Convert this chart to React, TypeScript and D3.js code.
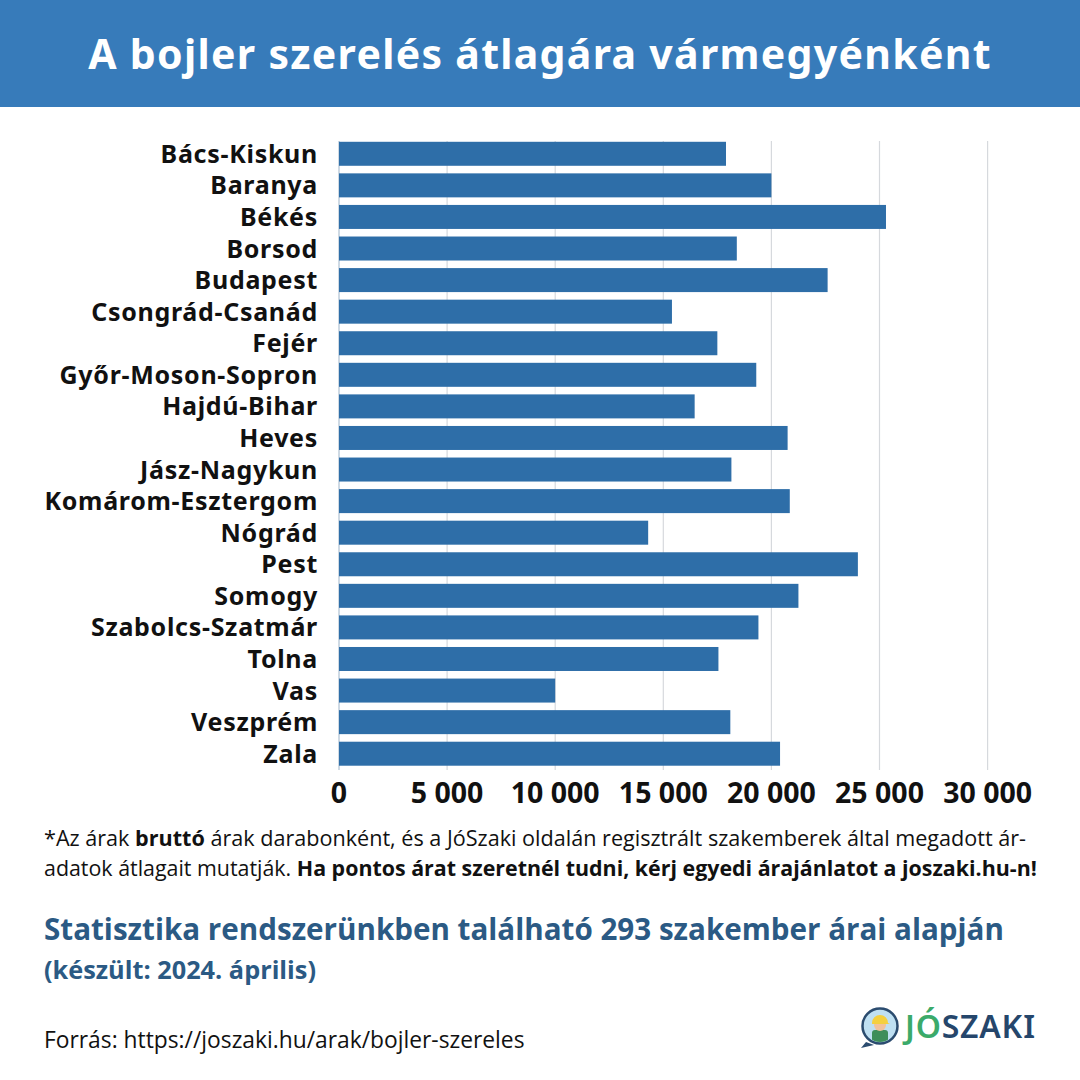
import React from "react";
import * as d3 from "d3";

const counties = [
  "Bács-Kiskun", "Baranya", "Békés", "Borsod", "Budapest", "Csongrád-Csanád",
  "Fejér", "Győr-Moson-Sopron", "Hajdú-Bihar", "Heves", "Jász-Nagykun",
  "Komárom-Esztergom", "Nógrád", "Pest", "Somogy", "Szabolcs-Szatmár",
  "Tolna", "Vas", "Veszprém", "Zala",
];
const prices = [
  17900, 20000, 25300, 18400, 22600, 15400, 17500, 19300, 16450, 20750,
  18150, 20850, 14300, 24000, 21250, 19400, 17550, 10000, 18100, 20400,
];
const xTicks = [0, 5000, 10000, 15000, 20000, 25000, 30000];

const title = "A bojler szerelés átlagára vármegyénként";
const statLine = "Statisztika rendszerünkben található 293 szakember árai alapján";
const dateLine = "(készült: 2024. április)";
const sourceLine = "Forrás: https://joszaki.hu/arak/bojler-szereles";

const FONT = "'Noto Sans', sans-serif";
const NOTE_FONT = "'Open Sans', sans-serif";

export default function App() {
  const x = d3.scaleLinear().domain([0, 30000]).range([339, 987.6]);
  const y = d3
    .scaleBand<string>()
    .domain(counties)
    .range([138, 769.5])
    .paddingInner(0.24)
    .paddingOuter(0.12);
  const fmt = (v: number) => d3.format(",")(v).replace(/,/g, " ");
  const [y0, y1] = [141, 770];

  return (
    <svg
      width={1080}
      height={1080}
      viewBox="0 0 1080 1080"
      style={{ position: "absolute", left: 0, top: 0, background: "#fff" }}
    >
      <rect x={0} y={0} width={1080} height={1080} fill="#ffffff" />
      <rect x={0} y={0} width={1080} height={107} fill="#377BBA" />
      <text
        x={540}
        y={69}
        textAnchor="middle"
        fill="#ffffff"
        fontFamily={FONT}
        fontWeight={700}
        fontSize={41}
        letterSpacing={1.3}
      >
        {title}
      </text>

      {/* gridlines */}
      {xTicks.slice(1).map((t) => (
        <line key={t} x1={x(t)} x2={x(t)} y1={y0} y2={y1} stroke="#d6d9dd" strokeWidth={1.2} />
      ))}
      <line x1={x(0)} x2={x(0)} y1={y0} y2={y1} stroke="#9fb4c8" strokeWidth={1} />

      {/* bars */}
      {counties.map((c, i) => (
        <rect
          key={c}
          x={x(0)}
          y={y(c)!}
          width={x(prices[i]) - x(0)}
          height={y.bandwidth()}
          fill="#2E6EA8"
        />
      ))}

      {/* category labels */}
      {counties.map((c) => (
        <text
          key={c}
          x={318}
          y={y(c)! + y.bandwidth() / 2}
          dy="0.36em"
          textAnchor="end"
          fill="#111111"
          fontFamily={FONT}
          fontWeight={700}
          fontSize={25}
          letterSpacing={0.7}
        >
          {c}
        </text>
      ))}

      {/* x tick labels */}
      {xTicks.map((t) => (
        <text
          key={t}
          x={x(t)}
          y={803}
          textAnchor="middle"
          fill="#111111"
          fontFamily={FONT}
          fontWeight={700}
          fontSize={28.5}
        >
          {fmt(t)}
        </text>
      ))}

      {/* footnote */}
      <text x={44} y={846} fill="#111" fontFamily={NOTE_FONT} fontSize={21.6}>
        <tspan>*Az árak </tspan>
        <tspan fontWeight={700}>bruttó</tspan>
        <tspan> árak darabonként, és a JóSzaki oldalán regisztrált szakemberek által megadott ár-</tspan>
      </text>
      <text x={44} y={876} fill="#111" fontFamily={NOTE_FONT} fontSize={21.4}>
        <tspan>adatok átlagait mutatják. </tspan>
        <tspan fontWeight={700}>Ha pontos árat szeretnél tudni, kérj egyedi árajánlatot a joszaki.hu-n!</tspan>
      </text>

      <text x={44} y={940} fill="#2B5A84" fontFamily={NOTE_FONT} fontWeight={700} fontSize={29.6}>
        {statLine}
      </text>
      <text x={44} y={979} fill="#2B5A84" fontFamily={NOTE_FONT} fontWeight={700} fontSize={25.3}>
        {dateLine}
      </text>

      <text x={44} y={1048} fill="#111" fontFamily={NOTE_FONT} fontSize={22.8}>
        {sourceLine}
      </text>

      {/* logo */}
      <g transform="translate(880,1026)">
        <path d="M -14 16 L -19 22 L -6 19 Z" fill="#2B4C6F" />
        <circle r={17.5} fill="#BFE0F2" stroke="#2B4C6F" strokeWidth={2.5} />
        <clipPath id="logoClip">
          <circle r={16} />
        </clipPath>
        <g clipPath="url(#logoClip)">
          <rect x={-8} y={4} width={16} height={14} rx={3} fill="#3E8E5A" />
          <circle cx={0} cy={-1} r={6} fill="#F2C29A" />
          <path d="M -8 -3 A 8 8 0 0 1 8 -3 L 10 -2 L -8 -2 Z" fill="#F4D03F" />
        </g>
      </g>
      <text x={905} y={1038} fontFamily={FONT} fontWeight={600} fontSize={32} letterSpacing={0.8}>
        <tspan fill="#3BAA6A">JÓ</tspan>
        <tspan fill="#25466B">SZAKI</tspan>
      </text>
    </svg>
  );
}
